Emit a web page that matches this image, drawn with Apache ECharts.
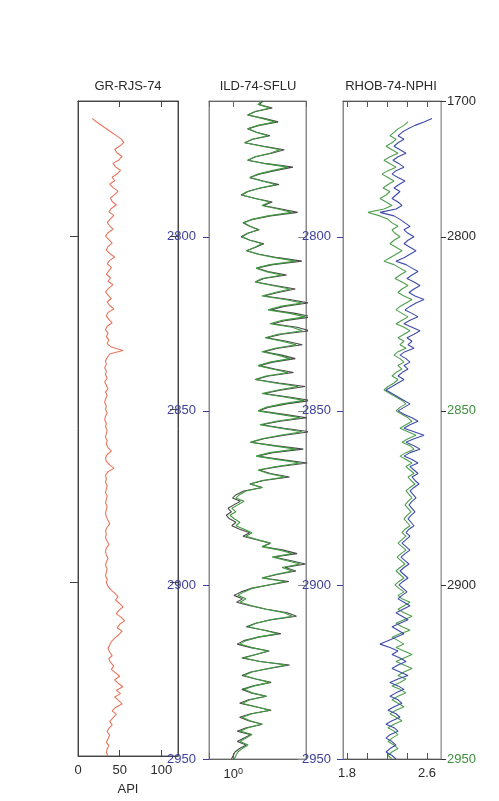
<!DOCTYPE html>
<html>
<head>
<meta charset="utf-8">
<title>Well log tracks</title>
<script src="https://cdn.jsdelivr.net/npm/echarts@6.0.0/dist/echarts.min.js"></script>
<style>
  html, body { margin: 0; padding: 0; background: #ffffff; }
  #chart { width: 499px; height: 801px; }
</style>
</head>
<body>
<div id="chart"></div>
<script>
// ---- depth sampling ----
const depthTop = 2761;
const depthBase = 2950;
const depthStep = 1;

// ---- tick labels ----
const depthTicks = [2800, 2850, 2900, 2950];
const grDepthMarks = [2800, 2900];
const topDepthLabel = '1700';
const greenDepthLabels = [2850, 2950];
const grTicks = [0, 50, 100];
const densityTicks = [1.8, 2.0, 2.2, 2.4, 2.6];
const densityLabels = [1.8, 2.6];

// ---- track titles ----
const trackTitles = ['GR-RJS-74', 'ILD-74-SFLU', 'RHOB-74-NPHI'];

// ---- GR (API), first sample at 2766 ----
const grStart = 2766;
const grValues = [
  17,22,28,34,40,46,52,55,50,44,
  47,53,49,42,45,51,47,41,44,38,
  42,48,44,39,41,46,40,37,43,39,
  35,38,42,36,33,37,41,36,34,38,
  44,38,35,40,37,34,39,36,42,37,
  33,36,40,35,38,43,36,34,37,41,
  35,33,36,34,37,35,40,54,38,35,
  33,34,32,34,33,35,32,34,36,33,
  35,33,32,34,33,35,33,32,34,33,
  35,34,33,35,34,36,40,35,33,34,
  38,43,36,33,34,33,35,34,33,35,
  34,33,35,34,33,34,36,38,35,33,
  34,33,35,37,34,33,34,36,34,33,
  35,34,33,35,34,36,39,44,48,45,
  50,54,49,46,52,56,50,47,53,49,
  44,40,38,36,38,41,37,39,43,40,
  45,50,44,48,54,46,51,44,49,53,
  45,41,46,42,38,41,37,35,38,36,
  34,37,35,34,36
];

// ---- ILD (ohm.m), first sample at 2761 ----
const ildStart = 2761;
const ildValues = [
  2.27,2.03,2.85,1.86,1.53,2.27,3.30,2.03,1.53,1.92,
  2.70,1.71,1.40,2.27,3.81,2.85,1.86,1.53,2.48,4.80,
  3.03,2.03,1.62,2.27,3.39,2.14,1.53,1.29,1.86,2.85,
  2.27,3.59,5.38,2.70,1.71,1.36,1.62,2.03,1.53,1.29,
  1.62,2.27,1.86,1.48,2.03,3.30,6.03,2.85,1.92,2.55,
  4.04,2.27,1.86,3.03,5.08,3.30,2.27,4.40,7.17,3.81,
  2.70,5.08,7.80,4.04,2.85,5.38,7.17,3.59,2.48,4.04,
  6.03,3.30,2.27,3.59,5.08,2.85,2.03,3.03,4.80,2.55,
  1.86,3.30,6.39,3.59,2.27,4.28,7.60,4.04,2.55,2.03,
  3.81,6.77,3.39,2.14,3.81,7.17,3.81,2.27,1.62,3.03,
  6.03,2.85,1.92,3.59,6.77,3.39,2.03,2.70,4.40,2.27,
  1.62,2.27,1.44,1.21,1.08,1.36,1.14,0.96,1.08,0.91,
  1.03,1.21,1.08,1.36,1.71,1.44,2.03,2.85,2.27,3.81,
  5.38,3.03,4.53,6.77,4.04,5.38,3.30,2.27,4.40,2.70,
  1.71,1.36,1.14,1.44,1.21,1.71,2.55,4.28,5.38,2.85,
  1.92,1.53,2.41,3.59,2.03,1.44,1.21,1.71,2.70,1.92,
  1.36,2.14,4.53,2.70,1.71,1.36,1.92,2.85,1.81,1.36,
  1.71,2.55,1.62,1.29,1.92,2.85,1.71,1.29,1.62,2.27,
  1.53,1.21,1.71,1.44,1.21,1.53,1.29,1.14,1.08,1.03
];

// ---- SFLU (ohm.m), first sample at 2761 ----
const sfluStart = 2761;
const sfluValues = [
  2.35,2.10,3.05,1.90,1.50,2.40,3.60,2.10,1.50,1.95,
  2.85,1.75,1.38,2.40,4.30,3.00,1.90,1.50,2.60,5.50,
  3.30,2.10,1.60,2.35,3.70,2.20,1.50,1.25,1.90,3.05,
  2.35,3.95,6.30,2.90,1.75,1.32,1.60,2.10,1.50,1.25,
  1.62,2.40,1.90,1.45,2.10,3.60,7.10,3.10,1.95,2.70,
  4.60,2.40,1.90,3.30,5.90,3.60,2.40,5.00,8.60,4.30,
  2.90,5.90,9.50,4.60,3.10,6.20,8.80,4.00,2.60,4.60,
  7.20,3.60,2.40,4.00,5.90,3.10,2.10,3.30,5.60,2.75,
  1.90,3.70,7.80,4.00,2.40,4.90,9.20,4.60,2.70,2.10,
  4.30,8.20,3.80,2.25,4.30,8.90,4.30,2.40,1.65,3.30,
  7.40,3.10,1.98,4.00,8.30,3.80,2.10,2.90,5.00,2.40,
  1.60,2.30,1.35,1.10,0.98,1.22,1.02,0.86,0.95,0.82,
  0.90,1.08,0.96,1.20,1.60,1.32,1.95,2.90,2.30,4.20,
  6.20,3.20,5.10,7.90,4.40,6.00,3.50,2.30,4.90,2.80,
  1.65,1.25,1.02,1.30,1.10,1.62,2.60,4.70,6.10,3.00,
  1.90,1.45,2.45,3.90,2.05,1.35,1.12,1.65,2.80,1.90,
  1.28,2.15,5.00,2.80,1.65,1.28,1.90,2.95,1.78,1.28,
  1.65,2.60,1.55,1.20,1.88,2.95,1.65,1.20,1.55,2.30,
  1.45,1.12,1.65,1.36,1.12,1.45,1.20,1.05,1.00,0.95
];

// ---- RHOB (g/cc), first sample at 2766 ----
const rhobStart = 2766;
const rhobValues = [
  2.65,2.57,2.48,2.41,2.35,2.31,2.37,2.31,2.27,2.33,
  2.39,2.31,2.26,2.32,2.37,2.29,2.25,2.31,2.38,2.32,
  2.27,2.33,2.29,2.25,2.31,2.35,2.29,2.13,2.27,2.33,
  2.38,2.43,2.37,2.41,2.47,2.41,2.37,2.43,2.49,2.43,
  2.37,2.29,2.39,2.45,2.51,2.45,2.40,2.47,2.53,2.47,
  2.42,2.48,2.57,2.49,2.43,2.38,2.45,2.51,2.43,2.37,
  2.45,2.53,2.47,2.40,2.45,2.41,2.47,2.38,2.33,2.39,
  2.43,2.37,2.41,2.35,2.31,2.37,2.31,2.25,2.19,2.25,
  2.31,2.37,2.43,2.37,2.31,2.37,2.45,2.51,2.43,2.37,
  2.47,2.57,2.47,2.39,2.47,2.53,2.43,2.37,2.45,2.51,
  2.43,2.47,2.51,2.45,2.48,2.52,2.47,2.43,2.46,2.49,
  2.45,2.42,2.45,2.48,2.44,2.41,2.44,2.47,2.42,2.39,
  2.43,2.39,2.35,2.39,2.43,2.38,2.34,2.38,2.42,2.37,
  2.33,2.37,2.41,2.36,2.32,2.36,2.40,2.35,2.31,2.37,
  2.43,2.36,2.29,2.35,2.41,2.33,2.25,2.31,2.37,2.29,
  2.21,2.13,2.23,2.31,2.25,2.33,2.39,2.31,2.25,2.33,
  2.41,2.31,2.23,2.31,2.37,2.29,2.23,2.31,2.35,2.27,
  2.21,2.29,2.33,2.25,2.19,2.27,2.31,2.23,2.19,2.25,
  2.29,2.23,2.19,2.25,2.29
];

// ---- NPHI (on the density scale), first sample at 2767 ----
const nphiStart = 2767;
const nphiValues = [
  2.41,2.37,2.31,2.27,2.23,2.29,2.25,2.19,2.25,2.31,
  2.23,2.17,2.23,2.29,2.21,2.15,2.21,2.27,2.21,2.16,
  2.23,2.19,2.13,2.19,2.25,2.17,2.01,2.13,2.21,2.25,
  2.31,2.25,2.28,2.33,2.27,2.23,2.29,2.35,2.29,2.23,
  2.17,2.27,2.33,2.39,2.33,2.28,2.35,2.41,2.35,2.31,
  2.37,2.45,2.39,2.33,2.29,2.35,2.41,2.35,2.29,2.37,
  2.43,2.37,2.31,2.37,2.33,2.39,2.31,2.27,2.33,2.37,
  2.31,2.35,2.29,2.25,2.31,2.27,2.21,2.17,2.23,2.29,
  2.35,2.39,2.33,2.29,2.35,2.41,2.45,2.39,2.33,2.41,
  2.49,2.41,2.35,2.43,2.47,2.39,2.33,2.39,2.45,2.39,
  2.43,2.47,2.41,2.44,2.48,2.43,2.39,2.42,2.45,2.41,
  2.38,2.41,2.44,2.40,2.37,2.40,2.43,2.38,2.35,2.39,
  2.35,2.31,2.35,2.39,2.34,2.30,2.34,2.38,2.33,2.29,
  2.33,2.37,2.32,2.28,2.32,2.37,2.31,2.35,2.43,2.37,
  2.31,2.37,2.45,2.37,2.29,2.35,2.43,2.33,2.25,2.31,
  2.37,2.29,2.37,2.45,2.37,2.29,2.37,2.45,2.37,2.31,
  2.39,2.33,2.25,2.33,2.39,2.31,2.25,2.31,2.37,2.29,
  2.23,2.29,2.35,2.27,2.21,2.27,2.31,2.25,2.21,2.27,
  2.31,2.25,2.21,2.25
];

// pair each reading with its depth
function withDepth(values, start) {
  return values.map((v, i) => [v, start + i * depthStep]);
}

const FONT = '"Liberation Sans", Arial, sans-serif';
const INK = '#2a2a2a';
const DEPTH_BLUE = '#3c3f9c';
const LOG_GREEN = '#3d8f3d';

const chart = echarts.init(document.getElementById('chart'), null, { renderer: 'canvas' });

const gridTop = 101;
const gridHeight = 658;

function depthAxis(gridIndex, position, cfg) {
  return {
    type: 'value',
    gridIndex: gridIndex,
    position: position,
    inverse: true,
    min: depthTop,
    max: depthBase,
    splitLine: { show: false },
    axisLine: { show: true, onZero: false, lineStyle: { color: cfg.lineColor, width: 1 } },
    axisTick: {
      show: true,
      inside: cfg.tickInside,
      length: cfg.tickLength,
      customValues: cfg.tickValues,
      lineStyle: { color: cfg.tickColor || cfg.lineColor }
    },
    axisLabel: cfg.label ? Object.assign({
      show: true,
      fontFamily: FONT,
      fontSize: 13,
      formatter: v => String(v)
    }, cfg.label) : { show: false }
  };
}

function trackXAxis(gridIndex, position, cfg) {
  const ax = {
    type: cfg.type,
    gridIndex: gridIndex,
    position: position,
    min: cfg.min,
    max: cfg.max,
    splitLine: { show: false },
    axisLine: { show: true, onZero: false, lineStyle: { color: cfg.lineColor } },
    axisTick: { show: true, inside: true, length: 6, lineStyle: { color: cfg.lineColor } },
    axisLabel: { show: false }
  };
  if (cfg.type === 'log') ax.logBase = 10;
  if (cfg.tickValues) ax.axisTick.customValues = cfg.tickValues;
  if (cfg.label) ax.axisLabel = Object.assign({ show: true, fontFamily: FONT, fontSize: 13, color: INK, margin: 8 }, cfg.label);
  if (cfg.name) {
    ax.name = cfg.name;
    ax.nameLocation = 'middle';
    ax.nameGap = 27;
    ax.nameTextStyle = { fontFamily: FONT, fontSize: 13, color: INK };
  }
  return ax;
}

const option = {
  animation: false,
  backgroundColor: '#ffffff',
  graphic: [
    { type: 'text', x: 128, y: 80, style: { text: trackTitles[0], textAlign: 'center', fill: INK, font: '13px ' + FONT } },
    { type: 'text', x: 258, y: 80, style: { text: trackTitles[1], textAlign: 'center', fill: INK, font: '13px ' + FONT } },
    { type: 'text', x: 391, y: 80, style: { text: trackTitles[2], textAlign: 'center', fill: INK, font: '13px ' + FONT } }
  ],
  grid: [
    { left: 78, top: gridTop, width: 100, height: gridHeight, show: true, borderColor: '#555', borderWidth: 1 },
    { left: 209, top: gridTop, width: 97, height: gridHeight, show: true, borderColor: '#8a8a8a', borderWidth: 1 },
    { left: 343, top: gridTop, width: 98, height: gridHeight, show: true, borderColor: '#8a8a8a', borderWidth: 1 }
  ],
  xAxis: [
    trackXAxis(0, 'bottom', { type: 'value', min: 0, max: 120, lineColor: '#444', tickValues: grTicks,
      label: { customValues: grTicks }, name: 'API' }),
    trackXAxis(0, 'top', { type: 'value', min: 0, max: 120, lineColor: '#444', tickValues: grTicks }),
    trackXAxis(1, 'bottom', { type: 'log', min: 0.5, max: 8, lineColor: '#666',
      label: {
        formatter: v => (Math.abs(v - 1) < 1e-6 ? '{m|10}{e|0}' : ''),
        rich: {
          m: { fontFamily: FONT, fontSize: 13, color: INK },
          e: { fontFamily: FONT, fontSize: 9, color: INK, verticalAlign: 'top', padding: [0, 0, 6, 0] }
        }
      } }),
    trackXAxis(1, 'top', { type: 'log', min: 0.5, max: 8, lineColor: '#666' }),
    trackXAxis(2, 'bottom', { type: 'value', min: 1.76, max: 2.74, lineColor: '#555', tickValues: densityTicks,
      label: { customValues: densityLabels } }),
    trackXAxis(2, 'top', { type: 'value', min: 1.76, max: 2.74, lineColor: '#555', tickValues: densityTicks })
  ],
  yAxis: [
    depthAxis(0, 'left', { lineColor: '#444', tickInside: false, tickLength: 8, tickValues: grDepthMarks }),
    depthAxis(0, 'right', { lineColor: '#444', tickInside: true, tickLength: 8, tickValues: depthTicks }),
    depthAxis(1, 'left', { lineColor: '#7f86b8', tickColor: DEPTH_BLUE, tickInside: false, tickLength: 6, tickValues: depthTicks,
      label: { customValues: depthTicks, color: DEPTH_BLUE, margin: 13 } }),
    depthAxis(1, 'right', { lineColor: '#8a8a8a', tickInside: true, tickLength: 8, tickValues: depthTicks }),
    depthAxis(2, 'left', { lineColor: '#7f7fd6', tickColor: DEPTH_BLUE, tickInside: false, tickLength: 6, tickValues: depthTicks,
      label: { customValues: depthTicks, color: DEPTH_BLUE, margin: 12 } }),
    depthAxis(2, 'right', { lineColor: '#7cbf7c', tickColor: '#333', tickInside: false, tickLength: 5,
      tickValues: [depthTop].concat(depthTicks),
      label: {
        customValues: [depthTop].concat(depthTicks),
        margin: 6,
        formatter: v => {
          if (v === depthTop) return '{k|' + topDepthLabel + '}';
          return greenDepthLabels.indexOf(v) >= 0 ? '{g|' + v + '}' : '{k|' + v + '}';
        },
        rich: {
          k: { fontFamily: FONT, fontSize: 13, color: INK },
          g: { fontFamily: FONT, fontSize: 13, color: LOG_GREEN }
        }
      } })
  ],
  series: [
    { name: 'GR', type: 'line', xAxisIndex: 0, yAxisIndex: 0, data: withDepth(grValues, grStart),
      symbol: 'none', clip: true, lineStyle: { color: '#e8765e', width: 1.1 } },
    { name: 'SFLU', type: 'line', xAxisIndex: 2, yAxisIndex: 2, data: withDepth(sfluValues, sfluStart),
      symbol: 'none', clip: true, lineStyle: { color: '#4a4a4a', width: 1.1 } },
    { name: 'ILD', type: 'line', xAxisIndex: 2, yAxisIndex: 2, data: withDepth(ildValues, ildStart),
      symbol: 'none', clip: true, lineStyle: { color: '#3f9a3f', width: 1.1 } },
    { name: 'NPHI', type: 'line', xAxisIndex: 4, yAxisIndex: 4, data: withDepth(nphiValues, nphiStart),
      symbol: 'none', clip: true, lineStyle: { color: '#4f9f4f', width: 1.1 } },
    { name: 'RHOB', type: 'line', xAxisIndex: 4, yAxisIndex: 4, data: withDepth(rhobValues, rhobStart),
      symbol: 'none', clip: true, lineStyle: { color: '#3e4ba8', width: 1.1 } }
  ]
};

chart.setOption(option);
</script>
</body>
</html>
